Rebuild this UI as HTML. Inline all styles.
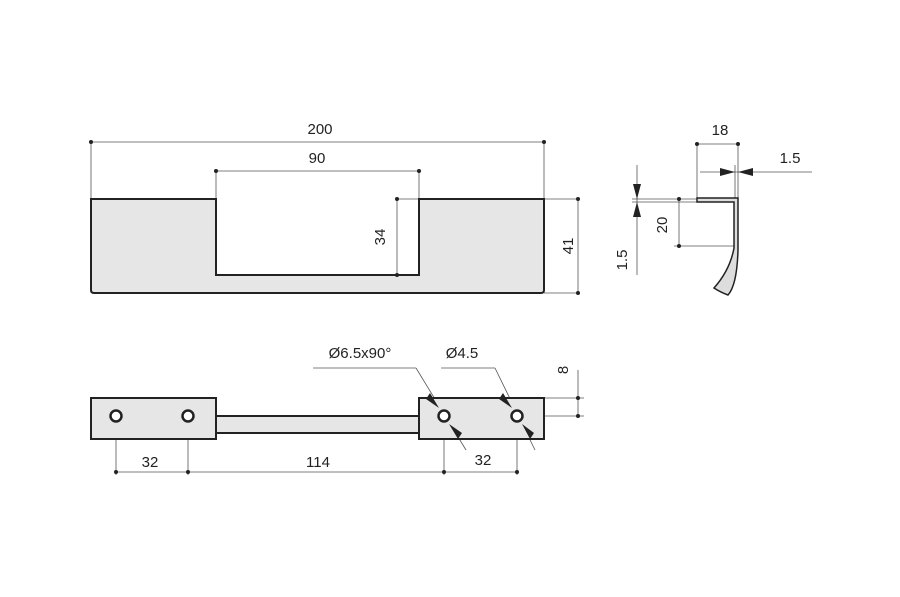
<!DOCTYPE html>
<html><head><style>body{margin:0;background:#fff}svg{display:block}text{font-family:"Liberation Sans",sans-serif;font-size:15px;fill:#222}</style></head><body>
<svg width="900" height="597" viewBox="0 0 900 597">
<g stroke="#555" stroke-width="0.8" fill="none">
<line x1="91" y1="142" x2="544" y2="142"/><line x1="91" y1="142" x2="91" y2="199"/><line x1="544" y1="142" x2="544" y2="199"/>
<line x1="216" y1="171" x2="419" y2="171"/><line x1="216" y1="171" x2="216" y2="199"/><line x1="419" y1="171" x2="419" y2="199"/>
<line x1="397" y1="199" x2="397" y2="275"/><line x1="397" y1="199" x2="419" y2="199"/>
<line x1="578" y1="199" x2="578" y2="293"/><line x1="544" y1="199" x2="578" y2="199"/><line x1="544" y1="293" x2="578" y2="293"/>
<line x1="697" y1="144" x2="738" y2="144"/><line x1="697" y1="144" x2="697" y2="199"/><line x1="738" y1="144" x2="738" y2="199"/>
<line x1="700" y1="172" x2="812" y2="172"/><line x1="735" y1="165" x2="735" y2="199"/>
<line x1="637" y1="165" x2="637" y2="275"/><line x1="632" y1="199" x2="697" y2="199"/><line x1="632" y1="202" x2="697" y2="202"/>
<line x1="679" y1="199" x2="679" y2="246"/><line x1="674" y1="246" x2="737" y2="246"/>
<line x1="578" y1="370" x2="578" y2="416"/><line x1="544" y1="398" x2="584" y2="398"/><line x1="521" y1="416" x2="584" y2="416"/>
<line x1="116" y1="472" x2="517" y2="472"/>
<line x1="116" y1="420" x2="116" y2="475"/><line x1="188" y1="420" x2="188" y2="475"/><line x1="444" y1="420" x2="444" y2="475"/><line x1="517" y1="420" x2="517" y2="475"/>
<line x1="313" y1="368" x2="416" y2="368"/><line x1="416" y1="368" x2="466" y2="450"/>
<line x1="441" y1="368" x2="495" y2="368"/><line x1="495" y1="368" x2="535" y2="450"/>
<line x1="105" y1="416" x2="127" y2="416"/><line x1="177" y1="416" x2="199" y2="416"/><line x1="433" y1="416" x2="455" y2="416"/><line x1="506" y1="416" x2="528" y2="416"/>
<line x1="116" y1="405" x2="116" y2="427"/><line x1="188" y1="405" x2="188" y2="427"/><line x1="444" y1="405" x2="444" y2="427"/>
</g>
<path d="M91,199 H216 V275 H419 V199 H544 V290 Q544,293 541,293 H94 Q91,293 91,290 Z" fill="#e6e6e6" stroke="#222" stroke-width="2"/>
<path d="M697,198 H738 V250 Q737,285 728,295 Q720,292 714,288 Q730,270 734,248 V202 H697 Z" fill="#ddd" stroke="#222" stroke-width="1.5"/>
<rect x="91" y="398" width="125" height="41" fill="#e6e6e6" stroke="#222" stroke-width="2"/>
<rect x="216" y="416" width="203" height="17" fill="#e6e6e6" stroke="#222" stroke-width="2"/>
<rect x="419" y="398" width="125" height="41" fill="#e6e6e6" stroke="#222" stroke-width="2"/>
<g fill="#fff" stroke="#222" stroke-width="2.5">
<circle cx="116" cy="416" r="5.5"/><circle cx="188" cy="416" r="5.5"/><circle cx="444" cy="416" r="5.5"/><circle cx="517" cy="416" r="5.5"/>
</g>
<g fill="#222">
<circle cx="91" cy="142" r="2"/><circle cx="544" cy="142" r="2"/><circle cx="216" cy="171" r="2"/><circle cx="419" cy="171" r="2"/>
<circle cx="397" cy="199" r="2"/><circle cx="397" cy="275" r="2"/><circle cx="578" cy="199" r="2"/><circle cx="578" cy="293" r="2"/>
<circle cx="697" cy="144" r="2"/><circle cx="738" cy="144" r="2"/><circle cx="679" cy="199" r="2"/><circle cx="679" cy="246" r="2"/>
<circle cx="578" cy="398" r="2"/><circle cx="578" cy="416" r="2"/>
<circle cx="116" cy="472" r="2"/><circle cx="188" cy="472" r="2"/><circle cx="444" cy="472" r="2"/><circle cx="517" cy="472" r="2"/>
<polygon points="735,172 720,168 720,176"/><polygon points="738,172 753,168 753,176"/>
<polygon points="637,199 633,184 641,184"/><polygon points="637,202 633,217 641,217"/>
<polygon points="439,408 430,393 426,399"/><polygon points="449,424 458,439 462,433"/>
<polygon points="512,408 503,393 499,399"/><polygon points="522,424 530,439 534,433"/>
</g>
<text x="320" y="134" text-anchor="middle">200</text>
<text x="317" y="163" text-anchor="middle">90</text>
<text transform="translate(385,237) rotate(-90)" text-anchor="middle">34</text>
<text transform="translate(573,246) rotate(-90)" text-anchor="middle">41</text>
<text x="720" y="135" text-anchor="middle">18</text>
<text x="790" y="163" text-anchor="middle">1.5</text>
<text transform="translate(667,225) rotate(-90)" text-anchor="middle">20</text>
<text transform="translate(627,260) rotate(-90)" text-anchor="middle">1.5</text>
<text transform="translate(568,370) rotate(-90)" text-anchor="middle">8</text>
<text x="360" y="358" text-anchor="middle">Ø6.5x90°</text>
<text x="462" y="358" text-anchor="middle">Ø4.5</text>
<text x="150" y="467" text-anchor="middle">32</text>
<text x="318" y="467" text-anchor="middle">114</text>
<text x="483" y="465" text-anchor="middle">32</text>
</svg>
</body></html>
